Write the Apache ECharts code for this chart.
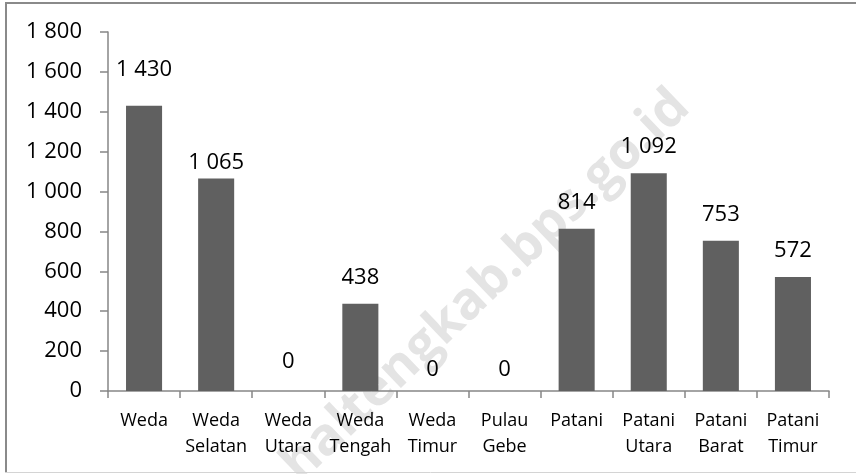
<!DOCTYPE html>
<html>
<head>
<meta charset="utf-8">
<script src="https://cdn.jsdelivr.net/npm/echarts@6/dist/echarts.min.js"></script>
<style>
  html, body { margin: 0; padding: 0; background: #fff; }
  #chart { width: 856px; height: 474px; }
</style>
</head>
<body>
<div id="chart"></div>
<script>
var categories = ['Weda', 'Weda\nSelatan', 'Weda\nUtara', 'Weda\nTengah', 'Weda\nTimur',
                  'Pulau\nGebe', 'Patani', 'Patani\nUtara', 'Patani\nBarat', 'Patani\nTimur'];
var values = [1430, 1065, 0, 438, 0, 0, 814, 1092, 753, 572];
var yTicks = [0, 200, 400, 600, 800, 1000, 1200, 1400, 1600, 1800];

// label nudges (Excel moved a few labels by hand)
var labelDistance = { 0: 25, 1: 5, 2: 18, 4: 10, 5: 10 };

function fmt(v) {
    var s = String(Math.round(v));
    return s.replace(/\B(?=(\d{3})+(?!\d))/g, ' ');
}

var myChart = echarts.init(document.getElementById('chart'));

var seriesData = values.map(function (v, i) {
    var item = { value: v };
    if (labelDistance[i] !== undefined) {
        item.label = { distance: labelDistance[i] };
    }
    return item;
});

var option = {
    animation: false,
    grid: {
        left: 108,
        right: 27,
        top: 32,
        bottom: 83
    },
    graphic: [
        {
            type: 'text',
            x: 486, y: 286,
            rotation: 0.763,
            z: -10,
            silent: true,
            style: {
                text: 'haltengkab.bps.go.id',
                font: 'bold 52px "Open Sans"',
                fill: '#e4e4e4',
                align: 'center',
                verticalAlign: 'middle'
            }
        },
        { type: 'line', shape: { x1: 5, y1: 3, x2: 856, y2: 3 }, style: { stroke: '#8a8a8a', lineWidth: 2 } },
        { type: 'line', shape: { x1: 6, y1: 3, x2: 6, y2: 472 }, style: { stroke: '#8a8a8a', lineWidth: 2 } },
        { type: 'line', shape: { x1: 5, y1: 472.5, x2: 856, y2: 472.5 }, style: { stroke: '#d4d4d4', lineWidth: 1 } }
    ],
    xAxis: {
        type: 'category',
        data: categories,
        axisLine: { lineStyle: { color: '#868686', width: 1.5 } },
        axisTick: { show: true, length: 7, lineStyle: { color: '#868686', width: 1.5 } },
        axisLabel: {
            margin: 17,
            color: '#000',
            fontFamily: 'Open Sans',
            fontSize: 18,
            lineHeight: 26,
            interval: 0
        },
        splitLine: { show: false }
    },
    yAxis: {
        type: 'value',
        min: 0,
        max: 1800,
        interval: 200,
        axisLine: { show: true, lineStyle: { color: '#868686', width: 1.5 } },
        axisTick: { show: true, length: 8, lineStyle: { color: '#868686', width: 1.5 } },
        axisLabel: {
            margin: 26,
            color: '#000',
            fontFamily: 'Open Sans',
            fontSize: 22,
            formatter: function (v) {
                return yTicks.indexOf(v) >= 0 ? fmt(v) : '';
            }
        },
        splitLine: { show: false }
    },
    series: [{
        type: 'bar',
        data: seriesData,
        barWidth: '50%',
        itemStyle: { color: '#606060' },
        label: {
            show: true,
            position: 'top',
            distance: 15,
            color: '#000',
            fontFamily: 'Open Sans',
            fontSize: 22,
            formatter: function (p) { return fmt(p.value); }
        }
    }]
};

myChart.setOption(option);
</script>
</body>
</html>
